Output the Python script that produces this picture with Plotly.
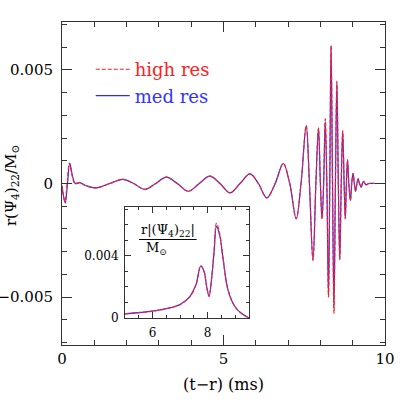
import plotly.graph_objects as go

# ---- main waveform, med res (blue) : extrema and zero crossings
t_med = [0.0, 0.03, 0.10, 0.17, 0.24, 0.33, 0.41, 0.55, 0.75, 1.06, 1.48, 1.89, 2.22, 2.56, 2.90, 3.23,
         3.57, 3.91, 4.25, 4.58, 4.89, 5.20, 5.51, 5.82, 6.08, 6.34, 6.60, 6.85, 7.05, 7.25, 7.40,
         7.56, 7.66, 7.77, 7.86, 7.94, 8.00, 8.05, 8.10, 8.15, 8.20, 8.25, 8.29, 8.33, 8.375, 8.42,
         8.465, 8.51, 8.555, 8.60, 8.645, 8.69, 8.735, 8.77, 8.805, 8.84, 8.88, 8.93, 8.97, 9.01,
         9.05, 9.09, 9.13, 9.17, 9.21, 9.26, 9.30, 9.34, 9.38, 9.42, 9.50, 9.70, 10.0]
v_med = [-0.0001, -0.0004, -0.00086, 0.0, 0.00089, 0.0003, 0.0, 0.00004, -0.0001, -0.00019, 0.0, 0.00018,
         0.0, -0.00026, 0.0, 0.00028, 0.0, -0.00034, 0.0, 0.00032, 0.0, -0.00041, 0.0, 0.00042, 0.0,
         -0.00063, 0.0, 0.00088, 0.0, -0.00155, 0.0, 0.00254, 0.0, -0.00338, 0.0, 0.00244, 0.0,
         -0.00155, 0.0, 0.00273, 0.0, -0.00499, 0.0, 0.00605, 0.0, -0.00543, 0.0, 0.00444, 0.0,
         -0.00335, 0.0, 0.00232, 0.0, -0.00155, 0.0, 0.00104, 0.0, -0.00075, 0.0, 0.00045, 0.0,
         -0.00034, 0.0, 0.00020, 0.0, -0.00016, 0.0, 0.00010, 0.0, -0.00006, 0.0, 0.0, 0.0]

# ---- main waveform, high res (red dashed)
t_high = [0.0, 0.03, 0.09, 0.16, 0.23, 0.32, 0.40, 0.55, 0.75, 1.06, 1.48, 1.89, 2.22, 2.56, 2.90, 3.23,
          3.57, 3.91, 4.25, 4.58, 4.89, 5.20, 5.51, 5.82, 6.08, 6.34, 6.60, 6.85, 7.05, 7.25, 7.40,
          7.56, 7.66, 7.77, 7.86, 7.94, 8.00, 8.05, 8.10, 8.15, 8.20, 8.25, 8.29, 8.33, 8.375, 8.42,
          8.465, 8.51, 8.555, 8.60, 8.645, 8.69, 8.735, 8.77, 8.805, 8.84, 8.88, 8.93, 8.97, 9.01,
          9.05, 9.09, 9.13, 9.17, 9.21, 9.26, 9.30, 9.34, 9.38, 9.42, 9.50, 9.70, 10.0]
v_high = [-0.0001, -0.0004, -0.00080, 0.0, 0.00090, 0.0003, 0.0, 0.00004, -0.0001, -0.00019, 0.0, 0.00018,
          0.0, -0.00026, 0.0, 0.00028, 0.0, -0.00034, 0.0, 0.00032, 0.0, -0.00041, 0.0, 0.00042, 0.0,
          -0.00063, 0.0, 0.00088, 0.0, -0.00155, 0.0, 0.00254, 0.0, -0.00338, 0.0, 0.00244, 0.0,
          -0.00155, 0.0, 0.00285, 0.0, -0.00499, 0.0, 0.00605, 0.0, -0.00571, 0.0, 0.00450, 0.0,
          -0.00335, 0.0, 0.00232, 0.0, -0.00155, 0.0, 0.00104, 0.0, -0.00075, 0.0, 0.00045, 0.0,
          -0.00034, 0.0, 0.00020, 0.0, -0.00016, 0.0, 0.00010, 0.0, -0.00006, 0.0, 0.0, 0.0]

# ---- inset amplitude |Psi4|
t_amp = [5.0, 6.0, 6.5, 7.0, 7.36, 7.58, 7.75, 7.87, 7.96, 8.05, 8.14, 8.23, 8.32, 8.44, 8.56, 8.74, 8.98, 9.22, 9.5]
a_med = [0.00027, 0.00044, 0.0006, 0.00087, 0.0014, 0.00217, 0.00335, 0.0030, 0.00206, 0.0014, 0.0025,
         0.0042, 0.0059, 0.0053, 0.0038, 0.0018, 0.00076, 0.0003, 0.00001]
a_high = [0.00027, 0.00044, 0.0006, 0.00087, 0.0014, 0.00217, 0.00337, 0.0030, 0.00206, 0.0014, 0.0025,
          0.0043, 0.0061, 0.0054, 0.0038, 0.0018, 0.00076, 0.0003, 0.00001]

FONT = "DejaVu Serif"
BLUE = "#2a2aff"
RED = "#ff2020"

fig = go.Figure()
fig.add_trace(go.Scatter(x=t_med, y=v_med, mode="lines", line=dict(color=BLUE, width=1.2, shape="spline", smoothing=1.0),
                         name="<span style='color:#3333ff'>med res</span>", legendrank=2))
fig.add_trace(go.Scatter(x=t_high, y=v_high, mode="lines",
                         line=dict(color=RED, width=1.2, dash="4px,2px", shape="spline", smoothing=1.0),
                         name="<span style='color:#ff2020'>high res</span>", legendrank=1))
fig.add_trace(go.Scatter(x=t_amp, y=a_med, mode="lines", xaxis="x2", yaxis="y2", showlegend=False,
                         line=dict(color=BLUE, width=1.2, shape="spline", smoothing=1.0)))
fig.add_trace(go.Scatter(x=t_amp, y=a_high, mode="lines", xaxis="x2", yaxis="y2", showlegend=False,
                         line=dict(color=RED, width=1.2, dash="4px,2px", shape="spline", smoothing=1.0)))

axis_common = dict(showline=True, linecolor="#333", linewidth=1, mirror="ticks", ticks="inside",
                   tickcolor="#333", showgrid=False, zeroline=False, automargin=False)

fig.update_layout(
    width=407, height=407,
    margin=dict(l=62, r=22, t=22, b=62),
    paper_bgcolor="white", plot_bgcolor="white",
    font=dict(family=FONT, size=15, color="black"),
    showlegend=True,
    legend=dict(x=0.089, y=0.91, xanchor="left", yanchor="top", bgcolor="rgba(0,0,0,0)",
                font=dict(family=FONT, size=18), traceorder="normal", itemwidth=34),
    xaxis=dict(range=[0, 10], dtick=5, ticklen=10, minor=dict(dtick=1, ticklen=5, ticks="inside", tickcolor="#333"),
               ticklabelstandoff=0, tickfont=dict(size=15), **axis_common),
    yaxis=dict(range=[-0.0071, 0.0071], dtick=0.005, ticklen=10,
               minor=dict(dtick=0.001, ticklen=5, ticks="inside", tickcolor="#333"),
               ticklabelstandoff=5, tickfont=dict(size=15), **axis_common),
    xaxis2=dict(domain=[0.195, 0.579], anchor="y2", range=[5, 9.5], dtick=2, tick0=0, ticklen=6,
                minor=dict(dtick=0.5, ticklen=3, ticks="inside", tickcolor="#333"),
                tickfont=dict(size=12), ticklabelstandoff=4, **axis_common),
    yaxis2=dict(domain=[0.0836, 0.427], anchor="x2", range=[0, 0.00715], dtick=0.004, ticklen=6,
                minor=dict(dtick=0.001, ticklen=3, ticks="inside", tickcolor="#333"),
                tickfont=dict(size=12), ticklabelstandoff=3, **axis_common),
)

# axis titles
fig.add_annotation(xref="paper", yref="paper", x=0.5, y=-0.1238, text="(t−r) (ms)", showarrow=False,
                   font=dict(family=FONT, size=16), xanchor="center", yanchor="middle")
fig.add_annotation(xref="paper", yref="paper", x=-0.158, y=0.495, textangle=-90,
                   text="r(Ψ<sub>4</sub>)<sub>22</sub>/M<sub>⊙</sub>", showarrow=False,
                   font=dict(family=FONT, size=15), xanchor="center", yanchor="middle")

# inset fraction label
fig.add_annotation(xref="x2", yref="y2", x=6.56, y=0.00564, text="r|(Ψ<sub>4</sub>)<sub>22</sub>|",
                   showarrow=False, font=dict(family=FONT, size=13), xanchor="center", yanchor="middle")
fig.add_annotation(xref="x2", yref="y2", x=6.16, y=0.00445, text="M<sub>⊙</sub>",
                   showarrow=False, font=dict(family=FONT, size=13), xanchor="center", yanchor="middle")
fig.add_shape(type="line", xref="x2", yref="y2", x0=5.51, x1=7.6, y0=0.00506, y1=0.00506,
              line=dict(color="black", width=1))

# remove the page's default 8px body margin so the 407x407 figure fills the window exactly
fig.write_html("out.html", config={"displayModeBar": False},
               post_script="document.body.style.margin='0px';")
